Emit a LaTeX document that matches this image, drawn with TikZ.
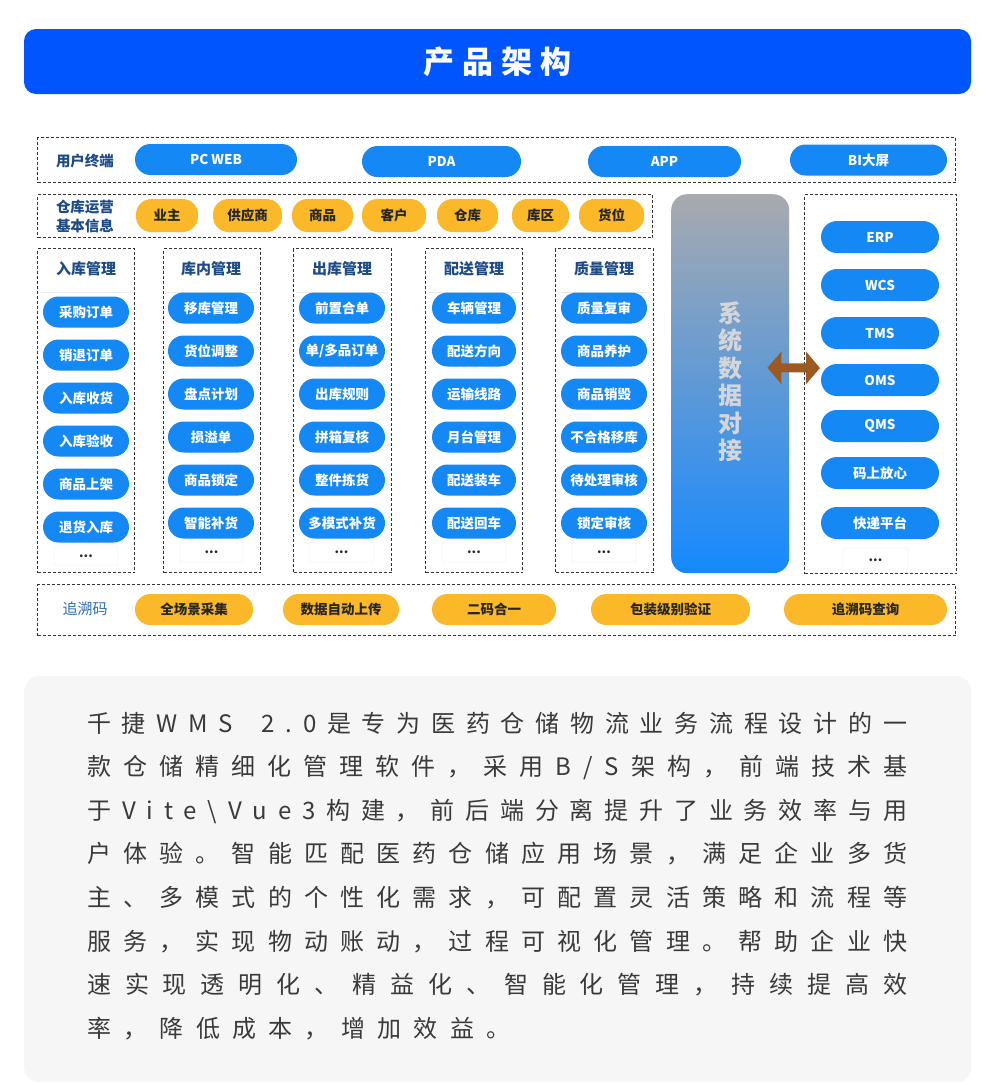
\documentclass[tikz,border=0pt]{standalone}
\usepackage{fontspec}
\setmainfont{Noto Sans CJK SC}
\usetikzlibrary{arrows.meta}
\definecolor{hdrblue}{HTML}{0055FF}
\definecolor{pillblue}{HTML}{1488F5}
\definecolor{pillorange}{HTML}{FBB829}
\definecolor{navy}{HTML}{1E4B87}
\definecolor{tracblue}{HTML}{2F6DB5}
\definecolor{arrbrown}{HTML}{9A5A22}
\definecolor{bargray}{HTML}{A8AAAE}
\definecolor{barmid}{HTML}{7FA3D6}
\definecolor{barblue}{HTML}{1589FF}
\definecolor{bartext}{HTML}{D4D6DA}
\definecolor{panel}{HTML}{F6F6F6}
\definecolor{bodytext}{HTML}{3A3A3A}
\makeatletter
\def\spreadglue{\hskip 0pt plus 1fill\relax}
\newcommand\spreadtext[1]{\spr@first#1\relax}
\def\spr@first#1{#1\spr@rest}
\def\spr@rest#1{\ifx#1\relax\else\spreadglue#1\expandafter\spr@rest\fi}
\makeatother
\def\sgap{\hskip 7pt\relax}
\tikzset{
  dashbox/.style={draw=black!80, dash pattern=on 3pt off 2pt, line width=1.1pt, inner sep=0pt, anchor=north west},
  bpill/.style={fill=pillblue, text=white, rounded corners=15.5pt, minimum height=31pt, inner sep=0pt, font=\fontsize{13.5}{16}\selectfont\bfseries},
  opill/.style={fill=pillorange, text=black!85, rounded corners=15.5pt, minimum height=31pt, inner sep=0pt, font=\fontsize{13.5}{16}\selectfont\bfseries},
  lbl/.style={text=navy, font=\fontsize{14.5}{19}\selectfont\bfseries, align=center, inner sep=0pt},
  coltitle/.style={text=navy, font=\fontsize{15}{18}\selectfont\bfseries, inner sep=0pt},
  dotbox/.style={fill=white, draw=black!7, rounded corners=2pt, inner sep=0pt, font=\fontsize{13}{15}\selectfont\bfseries, text=black!85},
  bodyline/.style={anchor=base west, inner sep=0pt, text=bodytext, font=\fontsize{24}{30}\selectfont},
  sep/.style={draw=black!8, line width=0.8pt}
}
\begin{document}
\begin{tikzpicture}[x=1pt, y=-1pt]
\useasboundingbox[fill=white] (0,0) rectangle (1000,1085);

% header
\node[fill=hdrblue, rounded corners=12pt, minimum width=947pt, minimum height=65pt, inner sep=0pt, text=white,
      font=\fontsize{31}{34}\selectfont\bfseries] (hdr) at (497.5,61.5)
      {{\def\spreadglue{\hskip 8pt\relax}\spreadtext{产品架构}}};

% row 1: user terminals
\node[dashbox, minimum width=918pt, minimum height=45pt] (row1) at (37,137) {};
\node[lbl] (lab1) at (85,161) {用户终端};
\node[bpill, minimum width=162pt] (pcweb) at (216,159.5) {PC WEB};
\node[bpill, minimum width=159pt] (pda) at (441.5,161.5) {PDA};
\node[bpill, minimum width=153pt] (app) at (664.5,161.5) {APP};
\node[bpill, minimum width=157pt] (bi) at (868.5,160) {BI大屏};

% row 2: basic info
\node[dashbox, minimum width=615pt, minimum height=43pt] (row2) at (37,194) {};
\node[lbl] (lab2) at (85,216) {仓库运营\\基本信息};
\node[opill, minimum width=62pt, minimum height=33pt] (o1) at (167,215.5) {业主};
\node[opill, minimum width=69pt, minimum height=33pt] (o2) at (247.5,215.5) {供应商};
\node[opill, minimum width=61pt, minimum height=33pt] (o3) at (322.5,215.5) {商品};
\node[opill, minimum width=64pt, minimum height=33pt] (o4) at (394,215.5) {客户};
\node[opill, minimum width=61pt, minimum height=33pt] (o5) at (467.5,215.5) {仓库};
\node[opill, minimum width=57pt, minimum height=33pt] (o6) at (540.5,215.5) {库区};
\node[opill, minimum width=65pt, minimum height=33pt] (o7) at (611.5,215.5) {货位};

% columns
\node[dashbox, minimum width=97pt, minimum height=324pt] (col1) at (37,248) {};
\node[dashbox, minimum width=97pt, minimum height=324pt] (col2) at (163,248) {};
\node[dashbox, minimum width=98pt, minimum height=324pt] (col3) at (293,248) {};
\node[dashbox, minimum width=97pt, minimum height=324pt] (col4) at (425,248) {};
\node[dashbox, minimum width=98pt, minimum height=324pt] (col5) at (555,248) {};
\foreach \c in {col1,col2,col3,col4,col5}
  \draw[sep] ([xshift=4pt,yshift=-44pt]\c.north west) -- ([xshift=-4pt,yshift=-44pt]\c.north east);

\node[coltitle] (t1) at (86,269) {入库管理};
\node[coltitle] (t2) at (211,269) {库内管理};
\node[coltitle] (t3) at (342,269) {出库管理};
\node[coltitle] (t4) at (474,269) {配送管理};
\node[coltitle] (t5) at (604,269) {质量管理};

\foreach \t [count=\i] in {采购订单,销退订单,入库收货,入库验收,商品上架,退货入库}
  \node[bpill, minimum width=86pt] (a\i) at (86,{312+43*(\i-1)}) {\t};
\foreach \t [count=\i] in {移库管理,货位调整,盘点计划,损溢单,商品锁定,智能补货}
  \node[bpill, minimum width=86pt] (b\i) at (211,{308+43*(\i-1)}) {\t};
\foreach \t [count=\i] in {前置合单,单/多品订单,出库规则,拼箱复核,整件拣货,多模式补货}
  \node[bpill, minimum width=86pt] (c\i) at (342,{308+43*(\i-1)}) {\t};
\foreach \t [count=\i] in {车辆管理,配送方向,运输线路,月台管理,配送装车,配送回车}
  \node[bpill, minimum width=84pt] (d\i) at (474,{308+43*(\i-1)}) {\t};
\foreach \t [count=\i] in {质量复审,商品养护,商品销毁,不合格移库,待处理审核,锁定审核}
  \node[bpill, minimum width=86pt] (e\i) at (604,{308+43*(\i-1)}) {\t};

\node[dotbox, minimum width=64pt, minimum height=18pt] (a7) at (86,556) {...};
\node[dotbox, minimum width=63pt, minimum height=20pt] (b7) at (211.5,552) {...};
\node[dotbox, minimum width=65pt, minimum height=20pt] (c7) at (341.5,552) {...};
\node[dotbox, minimum width=64pt, minimum height=20pt] (d7) at (474,552) {...};
\node[dotbox, minimum width=64pt, minimum height=20pt] (e7) at (604,552) {...};

% system data bar
\node[rounded corners=16pt, top color=bargray, middle color=barmid, bottom color=barblue, minimum width=118pt,
      minimum height=379pt, inner sep=0pt, anchor=north west] (bar) at (671,194) {};
\node[text=bartext, font=\fontsize{24}{27.5}\selectfont\bfseries, align=center, inner sep=0pt] (bartxt) at (730,382)
      {系\\统\\数\\据\\对\\接};

% right box: external systems
\node[dashbox, minimum width=152pt, minimum height=379pt] (rbox) at (804,194) {};
\foreach \t/\yy [count=\i] in {ERP/237,WCS/285,TMS/333,OMS/380,QMS/426,码上放心/473,快递平台/523}
  \node[bpill, minimum width=118pt, minimum height=32pt, rounded corners=16pt] (r\i) at (880,\yy) {\t};
\node[dotbox, minimum width=65pt, minimum height=24pt] (r8) at (875.5,560) {...};

% arrow
\draw[arrbrown, line width=9pt, {Triangle[width=32pt,length=14pt]}-{Triangle[width=32pt,length=14pt]}]
  ([xshift=-22pt,yshift=16pt]bar.east) -- ([xshift=16pt,yshift=16pt]rbox.west);

% row 3: traceability
\node[dashbox, minimum width=918pt, minimum height=51pt] (row3) at (37,584) {};
\node[text=tracblue, font=\fontsize{15}{18}\selectfont, inner sep=0pt] (lab3) at (85,609) {追溯码};
\node[opill, minimum width=118pt] (p1) at (194,609.5) {全场景采集};
\node[opill, minimum width=116pt] (p2) at (341,609.5) {数据自动上传};
\node[opill, minimum width=124pt] (p3) at (494,609.5) {二码合一};
\node[opill, minimum width=159pt] (p4) at (670.5,609.5) {包装级别验证};
\node[opill, minimum width=163pt] (p5) at (865.5,609.5) {追溯码查询};

% description panel
\node[fill=panel, rounded corners=15pt, minimum width=947pt, minimum height=406pt, inner sep=0pt, anchor=north west] (panel) at (24,676) {};
\node[bodyline] (l1) at (87,732) {\hbox to 820pt{\spreadtext{千捷WMS\sgap2.0是专为医药仓储物流业务流程设计的一}}};
\node[bodyline] (l2) at (87,775.6) {\hbox to 820pt{\spreadtext{款仓储精细化管理软件，采用B/S架构，前端技术基}}};
\node[bodyline] (l3) at (87,819.2) {\hbox to 820pt{\spreadtext{于Vite\textbackslash Vue3构建，前后端分离提升了业务效率与用}}};
\node[bodyline] (l4) at (87,862.8) {\hbox to 820pt{\spreadtext{户体验。智能匹配医药仓储应用场景，满足企业多货}}};
\node[bodyline] (l5) at (87,906.4) {\hbox to 820pt{\spreadtext{主、多模式的个性化需求，可配置灵活策略和流程等}}};
\node[bodyline] (l6) at (87,950) {\hbox to 820pt{\spreadtext{服务，实现物动账动，过程可视化管理。帮助企业快}}};
\node[bodyline] (l7) at (87,993.6) {\hbox to 820pt{\spreadtext{速实现透明化、精益化、智能化管理，持续提高效}}};
\node[bodyline] (l8) at (87,1037.2) {{\def\spreadglue{\hskip 12.3pt\relax}\spreadtext{率，降低成本，增加效益。}}};
\end{tikzpicture}
\end{document}
